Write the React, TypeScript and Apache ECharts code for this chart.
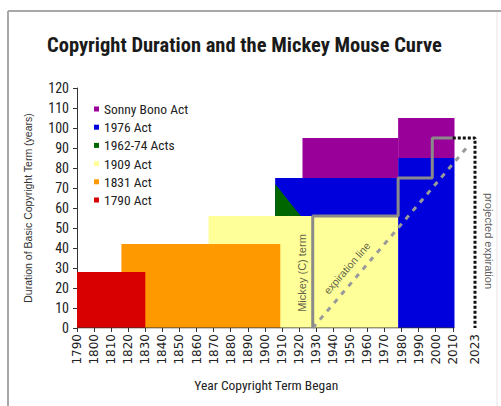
import React, { useEffect, useRef } from "react";
import * as echarts from "echarts";

// ---- data ----
const actNames = ["Sonny Bono Act", "1976 Act", "1962-74 Acts", "1909 Act", "1831 Act", "1790 Act"];

// rectangles: [startYear, endYear, lowTerm, highTerm]
const act1790 = [[1790, 1830, 0, 28]];
const act1831 = [[1816, 1909, 0, 42]];
const act1909 = [[1867, 1978, 0, 56]];
const act1976 = [[1906, 1978, 56, 75], [1978, 2011, 0, 85]];
const actSonnyBono = [[1922, 1978, 75, 95], [1978, 2011, 85, 105]];
// triangle: [year, term] vertices
const act1962Years = [1906, 1906, 1921];
const act1962Terms = [56, 72, 56];

const mickeyYears = [1928, 1928, 1978, 1978, 1998, 1998, 2010];
const mickeyTerms = [0, 56, 56, 75, 75, 95, 95];
const projectedYears = [2010, 2023, 2023];
const projectedTerms = [95, 95, 0];
const expirationYears = [1928, 2020];
const expirationTerms = [0, 92];
const baselineYears = [1790, 2011];

const xTickYears = [1790, 1800, 1810, 1820, 1830, 1840, 1850, 1860, 1870, 1880, 1890, 1900, 1910, 1920, 1930, 1940, 1950, 1960, 1970, 1980, 1990, 2000, 2010];
const xLabelYears = [1790, 1800, 1810, 1820, 1830, 1840, 1850, 1860, 1870, 1880, 1890, 1900, 1910, 1920, 1930, 1940, 1950, 1960, 1970, 1980, 1990, 2000, 2010, 2023];

const noteTexts = ["Mickey (C) term", "expiration line", "projected expiration"];
const noteYears = [1922, 1948, 2031];
const noteTerms = [27.5, 30, 43.5];
const noteAngles = [90, 49, -90];

const NARROW = "'Liberation Sans Narrow', 'Roboto Condensed', Roboto, sans-serif";
const WIDE = "'Liberation Sans', Arial, sans-serif";

const colors: Record<string, string> = {
  "Sonny Bono Act": "#990099",
  "1976 Act": "#0000dd",
  "1962-74 Acts": "#006600",
  "1909 Act": "#ffff99",
  "1831 Act": "#ff9900",
  "1790 Act": "#d80000",
};

function rectSeries(name: string, data: number[][]) {
  return {
    name,
    type: "custom",
    itemStyle: { color: colors[name] },
    encode: { x: [0, 1], y: [2, 3] },
    data,
    renderItem: (params: any, api: any) => {
      const p0 = api.coord([api.value(0), api.value(3)]);
      const p1 = api.coord([api.value(1), api.value(2)]);
      return {
        type: "rect",
        shape: { x: p0[0], y: p0[1], width: p1[0] - p0[0], height: p1[1] - p0[1] },
        style: { fill: api.visual("color") },
      };
    },
  };
}

export default function App() {
  const ref = useRef<HTMLDivElement>(null);
  useEffect(() => {
    const chart = echarts.init(ref.current!, null, { renderer: "svg" });
    const triData = [act1962Years.flatMap((y, i) => [y, act1962Terms[i]])];
    chart.setOption({
      animation: false,
      title: {
        text: "Copyright Duration and the Mickey Mouse Curve",
        left: 42,
        top: 29,
        textStyle: { fontFamily: NARROW, fontSize: 20.5, fontWeight: "bold", color: "#1a1a1a" },
      },
      legend: {
        orient: "vertical",
        left: 89,
        top: 97,
        icon: "rect",
        itemWidth: 5,
        itemHeight: 5,
        itemGap: 4.2,
        data: actNames,
        textStyle: { fontFamily: NARROW, fontSize: 13.5, color: "#222" },
      },
      graphic: [
        { type: "line", shape: { x1: 8, y1: 11, x2: 501, y2: 11 }, style: { stroke: "#a8a8a8", lineWidth: 2 } },
        { type: "line", shape: { x1: 8, y1: 11, x2: 8, y2: 406 }, style: { stroke: "#a8a8a8", lineWidth: 2 } },
        { type: "line", shape: { x1: 497, y1: 12, x2: 497, y2: 406 }, style: { stroke: "#e4e4e4", lineWidth: 1 } },
      ],
      grid: { left: 77, right: 5.5, top: 88, bottom: 78 },
      xAxis: {
        type: "value",
        min: 1790,
        max: 2035,
        name: "Year Copyright Term Began",
        nameLocation: "middle",
        nameGap: 50,
        nameTextStyle: { fontFamily: NARROW, fontSize: 13.5, color: "#222", padding: [0, 40, 0, 0] },
        axisLine: { show: false },
        splitLine: { show: false },
        axisTick: { show: true, customValues: xTickYears, length: 4, lineStyle: { color: "#333" } },
        axisLabel: {
          customValues: xLabelYears,
          formatter: (v: number) => String(v),
          rotate: 90,
          margin: 6,
          fontFamily: "'DejaVu Sans', sans-serif",
          fontSize: 12,
          color: "#222",
        },
      },
      yAxis: {
        type: "value",
        min: 0,
        max: 120,
        interval: 10,
        name: "Duration of Basic Copyright Term (years)",
        nameLocation: "middle",
        nameRotate: 90,
        nameGap: 44,
        nameTextStyle: { fontFamily: WIDE, fontSize: 10.5, color: "#333" },
        axisLine: { show: true, lineStyle: { color: "#333" } },
        axisTick: { show: true, length: 4, lineStyle: { color: "#333" } },
        splitLine: { show: false },
        axisLabel: { margin: 8, fontFamily: NARROW, fontSize: 14, color: "#222" },
      },
      series: [
        rectSeries("1909 Act", act1909),
        rectSeries("1831 Act", act1831),
        rectSeries("1790 Act", act1790),
        rectSeries("1976 Act", act1976),
        {
          name: "1962-74 Acts",
          type: "custom",
          itemStyle: { color: colors["1962-74 Acts"] },
          encode: { x: [0, 2, 4], y: [1, 3, 5] },
          data: triData,
          renderItem: (params: any, api: any) => {
            const pts = [0, 1, 2].map((k) => api.coord([api.value(2 * k), api.value(2 * k + 1)]));
            return { type: "polygon", shape: { points: pts }, style: { fill: api.visual("color") } };
          },
        },
        rectSeries("Sonny Bono Act", actSonnyBono),
        {
          name: "baseline",
          type: "line",
          symbol: "none",
          data: baselineYears.map((y) => [y, 0]),
          lineStyle: { color: "#333", width: 1 },
        },
        {
          name: "expiration",
          type: "line",
          symbol: "none",
          data: expirationYears.map((y, i) => [y, expirationTerms[i]]),
          lineStyle: { color: "#9a9a9a", width: 3, type: [5, 6] },
        },
        {
          name: "mickey",
          type: "line",
          symbol: "none",
          data: mickeyYears.map((y, i) => [y, mickeyTerms[i]]),
          lineStyle: { color: "#8a8a8a", width: 3 },
        },
        {
          name: "projected",
          type: "line",
          symbol: "none",
          data: projectedYears.map((y, i) => [y, projectedTerms[i]]),
          lineStyle: { color: "#111", width: 3, type: [3, 2] },
        },
        {
          name: "notes",
          type: "scatter",
          symbolSize: 0,
          silent: true,
          data: noteTexts.map((t, i) => ({
            value: [noteYears[i], noteTerms[i]],
            label: {
              show: true,
              position: "inside",
              formatter: t,
              rotate: noteAngles[i],
              fontFamily: WIDE,
              fontSize: i === 1 ? 10.5 : 11,
              color: "#333",
            },
          })),
        },
      ],
    });
    return () => chart.dispose();
  }, []);
  return <div ref={ref} style={{ position: "absolute", left: 0, top: 0, width: 501, height: 406 }} />;
}
